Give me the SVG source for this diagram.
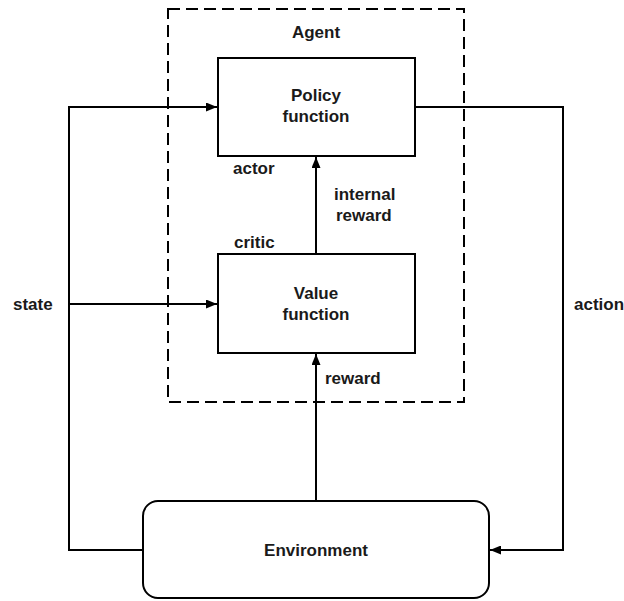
<svg xmlns="http://www.w3.org/2000/svg" width="624" height="601" viewBox="0 0 624 601">
<style>
text{font-family:"Liberation Sans",Arial,sans-serif;font-weight:bold;font-size:17px;fill:#1a1a1a}
.box{fill:#fff;stroke:#000;stroke-width:2}
.ln{fill:none;stroke:#000;stroke-width:2}
.mid{text-anchor:middle}
</style>
<defs>
<marker id="ah" viewBox="0 0 11 9" refX="11" refY="4.5" markerWidth="11" markerHeight="9" markerUnits="userSpaceOnUse" orient="auto">
<path d="M0,0 L11,4.5 L0,9 z" fill="#000"/>
</marker>
</defs>
<rect width="624" height="601" fill="#fff"/>
<g id="agent">
<rect x="168" y="9" width="296" height="393" fill="none" stroke="#000" stroke-width="2" stroke-dasharray="12,6"/>
<text x="316" y="38" class="mid">Agent</text>
</g>
<g id="connectors">
<path class="ln" d="M143,550 H69 V107 H217" marker-end="url(#ah)"/>
<path class="ln" d="M69,304 H217" marker-end="url(#ah)"/>
<path class="ln" d="M415,107 H563 V550 H490" marker-end="url(#ah)"/>
<path class="ln" d="M316,501 V354" marker-end="url(#ah)"/>
<path class="ln" d="M316,254 V157" marker-end="url(#ah)"/>
</g>
<g id="policy">
<rect class="box" x="218" y="58" width="197" height="98"/>
<text x="316" y="101" class="mid">Policy</text>
<text x="316" y="122" class="mid">function</text>
</g>
<g id="value">
<rect class="box" x="218" y="254" width="197" height="99"/>
<text x="316" y="299" class="mid">Value</text>
<text x="316" y="320" class="mid">function</text>
</g>
<g id="environment">
<rect class="box" x="143" y="501" width="346" height="97" rx="15"/>
<text x="316" y="556" class="mid">Environment</text>
</g>
<g id="labels">
<text x="233" y="174">actor</text>
<text x="334" y="200">internal</text>
<text x="336" y="221">reward</text>
<text x="234" y="248">critic</text>
<text x="325" y="384">reward</text>
<text x="13" y="310">state</text>
<text x="574" y="310">action</text>
</g>
</svg>
